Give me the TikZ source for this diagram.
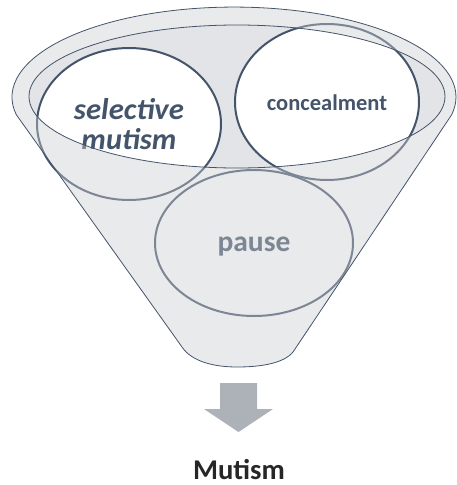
\documentclass[tikz,border=0pt]{standalone}
\usepackage{fontspec}
\setmainfont{Carlito}
\usetikzlibrary{shapes.geometric}
\definecolor{dk}{HTML}{44546A}
\definecolor{rim}{HTML}{E3E4E7}
\definecolor{ov}{HTML}{CCCDD0}
\definecolor{arr}{HTML}{ADB1B8}
\definecolor{blk}{HTML}{262626}
\tikzset{
  funnelpath/.style={insert path={(16.5,115) -- (182,347) .. controls (192,362) and (215,367) .. (237,367) .. controls (262,367) and (284,363) .. (293,352) -- (451.5,115) arc[start angle=11.5, end angle=-191.5, x radius=222, y radius=90] -- cycle}},
  rimpath/.style={insert path={(237,96.5) ellipse [x radius=208, y radius=71.5]}},
  bubble/.style={ellipse, draw=dk, line width=2pt, fill=white, inner sep=0pt, text=dk},
  thinline/.style={draw=dk, line width=0.8pt},
}
\begin{document}
\begin{tikzpicture}[x=1pt,y=-1pt]
\useasboundingbox (0,0) rectangle (456,485);
% funnel body and rim interior
\path[fill=white, funnelpath];
\path[fill=rim, rimpath];
% bubbles
\node[bubble, minimum width=184pt, minimum height=152pt, align=center, font=\fontsize{30}{30}\selectfont\bfseries\itshape] (sel) at (129,124) {\resizebox{110pt}{\height}{selective}\\\resizebox{95pt}{\height}{mutism}};
\node[bubble, minimum width=184pt, minimum height=156pt, text height=16pt, text depth=0pt, font=\fontsize{22.5}{24}\selectfont\bfseries] (con) at (327,102) {concealment};
\node[bubble, minimum width=198pt, minimum height=146pt, text height=17.4pt, text depth=0pt, font=\fontsize{29.5}{30}\selectfont\bfseries] (pau) at (254,243) {pause};
% translucent front of the funnel
\path[fill=ov, fill opacity=0.42, even odd rule, funnelpath, rimpath];
% outlines
\path[thinline, funnelpath];
\path[thinline, rimpath];
% arrow and result
\fill[arr] (220,383) -- (257,383) -- (257,409) -- (273,409) -- (238.5,432) -- (204,409) -- (220,409) -- cycle;
\node[font=\fontsize{28.6}{30}\selectfont\bfseries, text=blk, anchor=base, inner sep=0pt] (res) at (239,479) {Mutism};
\end{tikzpicture}
\end{document}
